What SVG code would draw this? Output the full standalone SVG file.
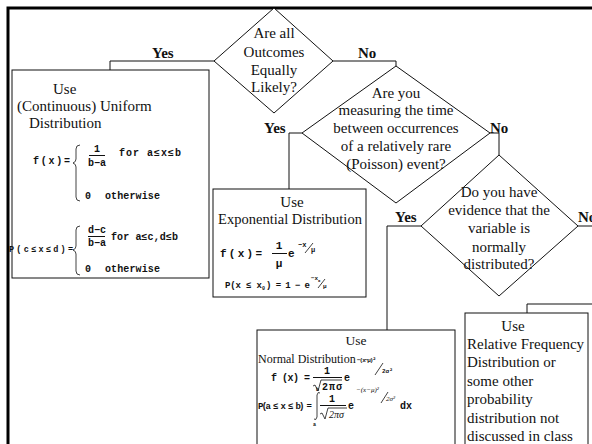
<svg xmlns="http://www.w3.org/2000/svg" width="592" height="444" viewBox="0 0 592 444">
<style>
.frame{fill:none;stroke:#000;stroke-width:3}
.shape{fill:#fff;stroke:#111;stroke-width:1}
.conn{fill:none;stroke:#111;stroke-width:1}
.thin{fill:none;stroke:#111;stroke-width:0.8}
.t{font-family:"Liberation Serif","Times New Roman",serif;font-size:15px;fill:#111;text-anchor:middle}
.tl{font-family:"Liberation Serif","Times New Roman",serif;font-size:15px;fill:#111}
.lab{font-family:"Liberation Serif","Times New Roman",serif;font-size:15px;font-weight:bold;fill:#111}
.m{font-family:"Liberation Mono","Courier New",monospace;font-size:10px;font-weight:bold;fill:#111}
.ms{font-family:"Liberation Mono","Courier New",monospace;font-size:7px;font-weight:bold;fill:#111}
.ma{font-family:"Liberation Mono","Courier New",monospace;font-size:10px;font-weight:bold;fill:#111;text-anchor:middle}
.sy{font-family:"Liberation Serif","Times New Roman",serif;font-size:7px;font-style:italic;fill:#111}
</style>
<rect x="0" y="0" width="592" height="444" fill="#fff"/>
<rect class="frame" x="8" y="8" width="600" height="450"/>

<g id="connectors">
<polyline class="conn" points="214,61 110,61 110,70"/>
<polyline class="conn" points="333,61 396,61 396,66"/>
<polyline class="conn" points="302,133 289,133 289,189"/>
<polyline class="conn" points="490,133 499,133 499,155"/>
<polyline class="conn" points="421,226 387,226 387,330"/>
<polyline class="conn" points="578,226 600,226"/>
<polyline class="conn" points="600,304 527,304 527,313"/>
<text class="lab" x="152" y="58">Yes</text>
<text class="lab" x="358" y="58">No</text>
<text class="lab" x="264" y="133">Yes</text>
<text class="lab" x="490" y="133">No</text>
<text class="lab" x="395" y="222">Yes</text>
<text class="lab" x="578" y="222">No</text>
</g>

<g id="q1">
<polygon class="shape" points="274,8 333,61 274,113 214,61"/>
<text class="t" x="274" y="38">Are all</text>
<text class="t" x="274" y="57">Outcomes</text>
<text class="t" x="274" y="75">Equally</text>
<text class="t" x="274" y="92">Likely?</text>
</g>

<g id="q2">
<polygon class="shape" points="396,66 490,133 396,203 302,133"/>
<text class="t" x="396" y="98">Are you</text>
<text class="t" x="396" y="115">measuring the time</text>
<text class="t" x="396" y="133">between occurrences</text>
<text class="t" x="396" y="151">of a relatively rare</text>
<text class="t" x="396" y="169">(Poisson) event?</text>
</g>

<g id="q3">
<polygon class="shape" points="499,155 578,226 499,296 421,226"/>
<text class="t" x="499" y="197">Do you have</text>
<text class="t" x="499" y="215">evidence that the</text>
<text class="t" x="499" y="233">variable is</text>
<text class="t" x="499" y="252">normally</text>
<text class="t" x="499" y="269">distributed?</text>
</g>

<g id="uniform">
<rect class="shape" x="12" y="70" width="197" height="208"/>
<text class="tl" x="53" y="94">Use</text>
<text class="tl" x="17" y="111">(Continuous) Uniform</text>
<text class="tl" x="29" y="128">Distribution</text>
<text class="m" x="33" y="164" textLength="37">f(x)=</text>
<path class="thin" d="M80,145 q-4,0 -4,4 v10 q0,3 -3,4 q3,1 3,4 v30 q0,4 4,4"/>
<text class="ma" x="97" y="152">1</text>
<line class="conn" x1="89" y1="155.5" x2="105" y2="155.5"/>
<text class="ma" x="97" y="166">b−a</text>
<text class="m" x="119" y="156" textLength="62">for a≤x≤b</text>
<text class="m" x="85" y="199">0</text>
<text class="m" x="105" y="199" textLength="55">otherwise</text>
<text class="m" x="9" y="252" style="font-size:8.5px" textLength="64">P(c≤x≤d)=</text>
<path class="thin" d="M80,226 q-4,0 -4,4 v16 q0,3 -3,4 q3,1 3,4 v17 q0,4 4,4"/>
<text class="ma" x="97" y="233">d−c</text>
<line class="conn" x1="88" y1="236.5" x2="105" y2="236.5"/>
<text class="ma" x="97" y="246">b−a</text>
<text class="m" x="111" y="240" textLength="67">for a≤c,d≤b</text>
<text class="m" x="85" y="272">0</text>
<text class="m" x="105" y="272" textLength="55">otherwise</text>
</g>

<g id="exponential">
<rect class="shape" x="213" y="189" width="153" height="108"/>
<text class="t" x="292" y="207">Use</text>
<text class="t" x="290" y="224" style="font-size:14.5px">Exponential Distribution</text>
<text class="m" x="220" y="257" style="font-size:11px" textLength="42">f ( x ) =</text>
<text class="ma" x="279" y="249" style="font-size:11px">1</text>
<line class="conn" x1="272" y1="253.5" x2="287" y2="253.5"/>
<text class="ma" x="279" y="267" style="font-size:11px">μ</text>
<text class="m" x="288" y="257" style="font-size:11px">e</text>
<text class="ms" x="298" y="247">−x</text>
<line class="thin" x1="305" y1="253" x2="313" y2="243"/>
<text class="ms" x="311" y="252">μ</text>
<text class="m" x="225" y="288" style="font-size:9px" textLength="37">P(x ≤ x</text>
<text class="ms" x="262" y="290" style="font-size:5px">0</text>
<text class="m" x="266" y="288" style="font-size:9px" textLength="44">)=1−e</text>
<text class="ms" x="311" y="280" style="font-size:6px">−x</text>
<text class="ms" x="318" y="282" style="font-size:4px">0</text>
<line class="thin" x1="318" y1="288" x2="325" y2="279"/>
<text class="ms" x="323" y="288" style="font-size:6px">μ</text>
</g>

<g id="normal">
<rect class="shape" x="257" y="330" width="198" height="130"/>
<text class="t" x="356" y="345" style="font-size:13.5px">Use</text>
<text class="tl" x="258" y="363" style="font-size:12px">Normal Distribution</text>
<text class="m" x="271" y="381" textLength="39">f (x) =</text>
<text class="ma" x="327" y="374">1</text>
<line class="conn" x1="313" y1="377.5" x2="342" y2="377.5"/>
<path class="thin" d="M313,386 l2,-1 l3,6 l3,-11 h21"/>
<text class="m" x="322" y="390" textLength="20">2πσ</text>
<text class="m" x="344" y="381">e</text>
<text class="ms" x="357" y="362" style="font-size:6px" textLength="19">−(x−μ)²</text>
<line class="thin" x1="375" y1="375" x2="383" y2="363"/>
<text class="ms" x="382" y="373" style="font-size:6px">2σ²</text>
<text class="m" x="258" y="409" style="font-size:9px" textLength="54">P(a ≤ x ≤ b) =</text>
<path class="thin" d="M320,393 q-2,-2 -3,2 v22 q-1,4 -3,2"/>
<text class="ms" x="316" y="391" style="font-size:5px">b</text>
<text class="ms" x="313" y="426" style="font-size:5px">a</text>
<text class="ma" x="332" y="402">1</text>
<line class="conn" x1="320" y1="405.5" x2="346" y2="405.5"/>
<path class="thin" d="M320,414 l2,-1 l3,6 l3,-11 h19"/>
<text class="sy" x="329" y="418" style="font-size:10px">2πσ</text>
<text class="m" x="348" y="409">e</text>
<text class="sy" x="356" y="392">−(x−μ)²</text>
<line class="thin" x1="381" y1="403" x2="388" y2="392"/>
<text class="sy" x="386" y="401">2σ²</text>
<text class="m" x="400" y="409">dx</text>
</g>

<g id="other">
<rect class="shape" x="465" y="313" width="123" height="140"/>
<text class="t" x="513" y="331">Use</text>
<text class="tl" x="467" y="349">Relative Frequency</text>
<text class="tl" x="467" y="367">Distribution or</text>
<text class="tl" x="467" y="386">some other</text>
<text class="tl" x="467" y="404">probability</text>
<text class="tl" x="467" y="423">distribution not</text>
<text class="tl" x="467" y="441">discussed in class</text>
</g>
</svg>
